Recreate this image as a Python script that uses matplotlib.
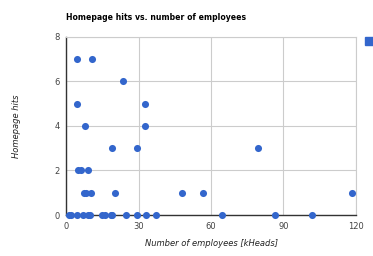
import matplotlib
matplotlib.use("Agg")
import matplotlib.pyplot as plt
from matplotlib.patches import Rectangle

employees = [4.2, 10.5, 23.5, 4.2, 32.4, 7.6, 32.4, 18.8, 29.3, 79.5,
             4.8, 5.9, 9.0,
             7.4, 8.3, 10.4, 20.0, 48.0, 56.5, 118.3,
             1.2, 2.1, 4.2, 7.0, 9.0, 9.7, 14.7, 16.0, 18.3, 19.1, 24.6, 29.3, 33.1, 37.0,
             64.5, 86.6, 101.7]
hits = [7, 7, 6, 5, 5, 4, 4, 3, 3, 3,
        2, 2, 2,
        1, 1, 1, 1, 1, 1, 1,
        0, 0, 0, 0, 0, 0, 0, 0, 0, 0, 0, 0, 0, 0,
        0, 0, 0]
xticks = [0, 30, 60, 90, 120]
yticks = [0, 2, 4, 6, 8]

fig = plt.figure(figsize=(3.73, 2.56), dpi=100)
ax = fig.add_axes([0.178, 0.160, 0.776, 0.697])
ax.scatter(employees, hits, s=26, color="#3366cc", zorder=3, clip_on=False, linewidths=0)
ax.set_xlim(0, 120)
ax.set_ylim(0, 8)
ax.set_xticks(xticks)
ax.set_yticks(yticks)
ax.grid(True, color="#cccccc", linewidth=0.8)
ax.set_axisbelow(True)
for s in ["top", "right"]:
    ax.spines[s].set_color("#cccccc")
    ax.spines[s].set_linewidth(0.8)
for s in ["left", "bottom"]:
    ax.spines[s].set_color("#333333")
    ax.spines[s].set_linewidth(1.0)
ax.tick_params(length=0, labelsize=6, labelcolor="#444444", pad=5)
ax.set_xlabel("Number of employees [kHeads]", fontsize=6, style="italic", color="#222222", labelpad=6)
ax.set_ylabel("Homepage hits", fontsize=6, style="italic", color="#222222", labelpad=24)
fig.text(66 / 373, 1 - 17 / 256, "Homepage hits vs. number of employees", fontsize=5.6,
         fontweight="bold", color="#000000", va="center", ha="left")
fig.patches.append(Rectangle((365 / 373, 1 - 45 / 256), 8 / 373, 8 / 256,
                             transform=fig.transFigure, color="#3366cc"))
fig.savefig("out.png", dpi=100)
